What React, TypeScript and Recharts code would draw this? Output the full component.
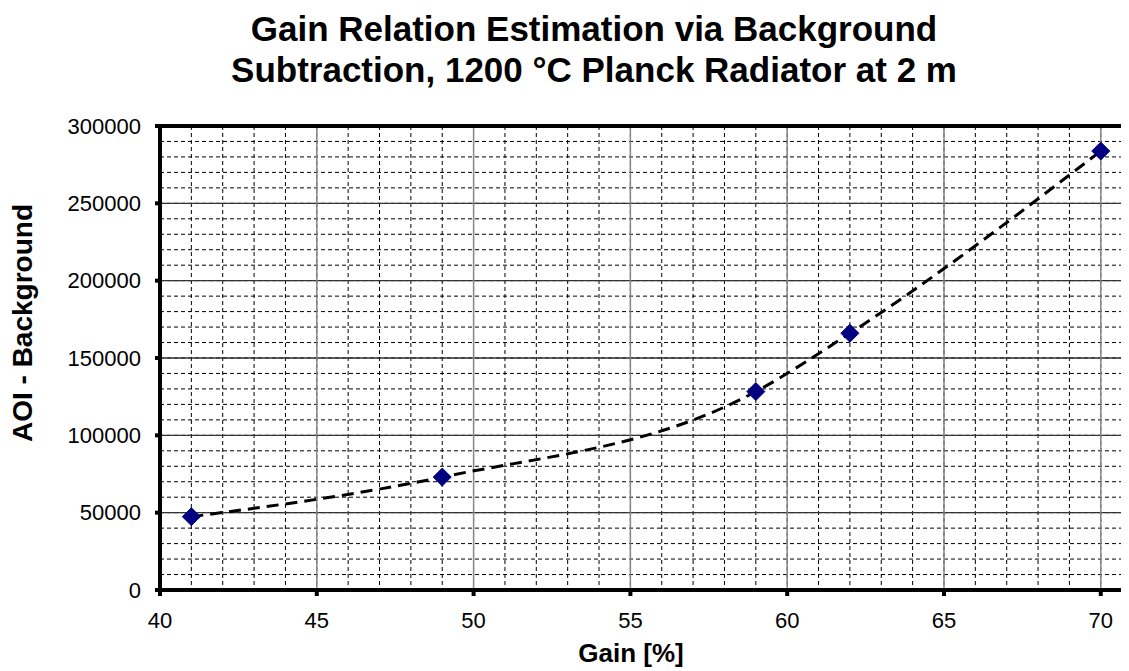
import React from "react";
import {
  ComposedChart,
  Line,
  XAxis,
  YAxis,
  CartesianGrid,
  ReferenceLine,
} from "recharts";

// gain setting [%] and measured AOI minus background
const gain = [41, 49, 59, 62, 70];
const signal = [47400, 73000, 128300, 166000, 283800];

const xTicks = [40, 45, 50, 55, 60, 65, 70];
const xMinorTicks = [
  40, 41, 42, 43, 44, 45, 46, 47, 48, 49, 50, 51, 52, 53, 54, 55, 56, 57, 58,
  59, 60, 61, 62, 63, 64, 65, 66, 67, 68, 69, 70,
];
const yTicks = [0, 50000, 100000, 150000, 200000, 250000, 300000];
const yMinorTicks = [
  0, 10000, 20000, 30000, 40000, 50000, 60000, 70000, 80000, 90000, 100000,
  110000, 120000, 130000, 140000, 150000, 160000, 170000, 180000, 190000,
  200000, 210000, 220000, 230000, 240000, 250000, 260000, 270000, 280000,
  290000, 300000,
];

const data = gain.map((g, i) => ({ gain: g, value: signal[i] }));

const FONT = "'Liberation Sans', Arial, sans-serif";
const X_DOMAIN: [number, number] = [40, 70.9];
const Y_DOMAIN: [number, number] = [0, 300000];

const Diamond = (props: any) => {
  const { cx, cy } = props;
  if (cx == null || cy == null) return null;
  const r = 9;
  return (
    <path
      d={`M${cx},${cy - r} L${cx + r},${cy} L${cx},${cy + r} L${cx - r},${cy} Z`}
      fill="#000080"
      stroke="#000080"
    />
  );
};

const tickStyle = { fontSize: 22, fill: "#000", fontFamily: FONT };

export default function App() {
  return (
    <div style={{ position: "relative", width: 1121, height: 663, fontFamily: FONT }}>
      <div
        style={{
          position: "absolute",
          left: 0,
          width: 1172,
          top: 0,
          textAlign: "center",
          fontWeight: "bold",
          fontSize: 35,
          lineHeight: "41px",
        }}
      >
        Gain Relation Estimation via Background
        <br />
        Subtraction, 1200 °C Planck Radiator at 2 m
      </div>
      <div
        style={{
          position: "absolute",
          left: 5,
          top: 315,
          transform: "translate(-50%, -50%) rotate(-90deg)",
          transformOrigin: "center",
          whiteSpace: "nowrap",
          fontWeight: "bold",
          fontSize: 28,
          marginLeft: 10,
        }}
      >
        AOI - Background
      </div>
      <div
        style={{
          position: "absolute",
          left: 623,
          top: 645,
          transform: "translate(-50%, -50%)",
          whiteSpace: "nowrap",
          fontWeight: "bold",
          fontSize: 26,
        }}
      >
        Gain [%]
      </div>
      <ComposedChart
        width={1121}
        height={663}
        data={data}
        margin={{ top: 118, right: 0, bottom: 0, left: 0 }}
      >
        <XAxis
          xAxisId="minor"
          dataKey="gain"
          type="number"
          domain={X_DOMAIN}
          ticks={xMinorTicks}
          interval={0}
          allowDataOverflow
          hide
        />
        <YAxis
          yAxisId="minor"
          type="number"
          domain={Y_DOMAIN}
          ticks={yMinorTicks}
          interval={0}
          allowDataOverflow
          hide
        />
        <CartesianGrid
          xAxisId="minor"
          yAxisId="minor"
          stroke="#000"
          strokeDasharray="4 3"
          strokeWidth={1}
        />
        <CartesianGrid vertical={false} stroke="#333" strokeWidth={1.3} />
        <CartesianGrid horizontal={false} stroke="#888" strokeWidth={1.5} />
        <XAxis
          dataKey="gain"
          type="number"
          domain={X_DOMAIN}
          ticks={xTicks}
          interval={0}
          allowDataOverflow
          height={81}
          tickSize={6}
          tickMargin={16}
          axisLine={{ stroke: "#000", strokeWidth: 4 }}
          tickLine={{ stroke: "#000", strokeWidth: 4 }}
          tick={tickStyle}
        />
        <YAxis
          type="number"
          domain={Y_DOMAIN}
          ticks={yTicks}
          interval={0}
          allowDataOverflow
          width={152}
          tickSize={5}
          tickMargin={14}
          axisLine={{ stroke: "#000", strokeWidth: 4 }}
          tickLine={{ stroke: "#000", strokeWidth: 4 }}
          tick={tickStyle}
        />
        <ReferenceLine y={300000} stroke="#000" strokeWidth={4} />
        <Line
          dataKey="value"
          type="monotone"
          stroke="#000"
          strokeWidth={3}
          strokeDasharray="12 7"
          dot={<Diamond />}
          activeDot={false}
          isAnimationActive={false}
        />
      </ComposedChart>
    </div>
  );
}
